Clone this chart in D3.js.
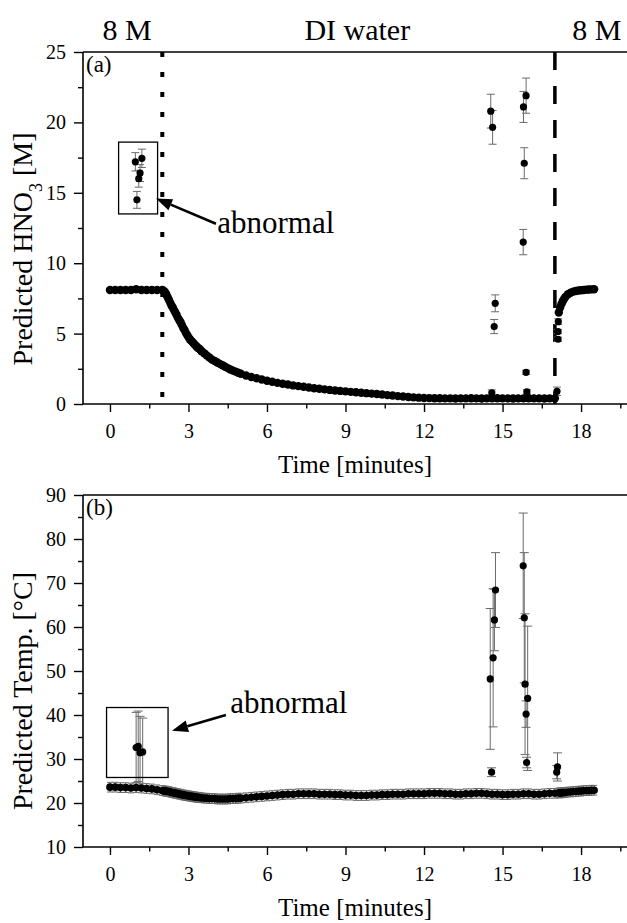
<!DOCTYPE html>
<html><head><meta charset="utf-8">
<script src="https://cdn.jsdelivr.net/npm/d3@7"></script>
<style>
body{margin:0;background:#fff}
svg{display:block}
</style>
</head><body>
<svg id="c" width="627" height="923" font-family="'Liberation Serif','DejaVu Serif',serif"></svg>
<script>
// ---------------- DATA ----------------
const times = [
  0,0.2,0.4,0.6,0.8,1,1.2,1.4,1.6,1.8,2,
  2.05,2.1,2.15,2.2,2.25,2.3,2.35,2.4,2.45,2.5,2.55,2.6,2.65,2.7,2.75,2.8,2.85,2.9,2.95,3,
  3.05,3.1,3.15,3.2,3.25,3.3,3.35,3.4,3.45,3.5,
  3.6,3.7,3.8,3.9,4,4.1,4.2,4.3,4.4,4.5,4.6,4.7,4.8,4.9,5,
  5.2,5.4,5.6,5.8,6,6.2,6.4,6.6,6.8,7,7.2,7.4,7.6,7.8,8,8.2,8.4,8.6,8.8,9,
  9.2,9.4,9.6,9.8,10,10.2,10.4,10.6,10.8,11,11.2,11.4,11.6,11.8,12,12.2,12.4,12.6,12.8,13,
  13.2,13.4,13.6,13.8,14,14.2,14.4,14.6,14.8,15,15.2,15.4,15.6,15.8,16,16.2,16.4,16.6,16.8,17,
  17.15,17.2,17.25,17.3,17.35,17.4,17.5,17.6,17.7,17.8,17.9,18,18.1,18.2,18.3,18.4,18.5
];
const hno3 = [
  8.1,8.1,8.1,8.1,8.1,8.15,8.1,8.1,8.1,8.1,8.1,
  8.05,7.95,7.8,7.6,7.4,7.2,7.0,6.85,6.65,6.5,6.3,6.1,5.95,5.8,5.6,5.4,5.25,5.05,4.9,4.75,
  4.6,4.5,4.4,4.3,4.2,4.1,4.0,3.95,3.85,3.75,
  3.6,3.45,3.3,3.15,3.05,2.95,2.85,2.75,2.65,2.55,2.45,2.37,2.3,2.22,2.15,
  2.02,1.92,1.83,1.74,1.65,1.58,1.5,1.44,1.38,1.32,1.27,1.22,1.17,1.12,1.08,1.04,1.0,0.96,0.93,0.9,
  0.86,0.83,0.8,0.77,0.74,0.71,0.67,0.63,0.6,0.56,0.53,0.5,0.47,0.45,0.43,0.42,0.41,0.41,0.4,0.4,
  0.39,0.4,0.4,0.41,0.4,0.39,0.4,0.4,0.41,0.4,0.4,0.39,0.4,0.4,0.41,0.4,0.4,0.39,0.4,0.4,
  6.5,6.85,7.1,7.3,7.45,7.6,7.8,7.9,7.98,8.03,8.06,8.08,8.1,8.12,8.13,8.14,8.15
];
const temp = [
  23.6,23.6,23.5,23.5,23.4,23.5,23.4,23.3,23.2,23.0,22.8,
  22.8,22.7,22.7,22.6,22.6,22.5,22.4,22.4,22.3,22.2,22.2,22.1,22.0,22.0,21.9,21.8,21.8,21.7,21.7,21.6,
  21.6,21.5,21.5,21.4,21.4,21.3,21.3,21.3,21.2,21.2,
  21.1,21.1,21.0,21.0,21.0,20.9,20.9,20.9,20.9,20.9,21.0,21.0,21.0,21.1,21.1,
  21.2,21.3,21.4,21.5,21.6,21.7,21.8,21.9,22.0,22.0,22.1,22.1,22.1,22.1,22.0,22.0,22.0,21.9,21.9,21.8,
  21.8,21.7,21.7,21.7,21.8,21.8,21.9,21.9,22.0,22.0,22.0,22.1,22.1,22.1,22.1,22.2,22.2,22.2,22.1,22.1,
  22.0,22.0,22.1,22.1,22.2,22.2,22.1,22.0,22.0,21.9,21.9,22.0,22.0,22.1,22.1,22.0,22.0,22.1,22.2,22.2,
  22.3,22.3,22.3,22.4,22.4,22.4,22.5,22.5,22.6,22.6,22.7,22.7,22.8,22.8,22.8,22.9,22.9
];
const hno3BaseErr = 0.12;
const tempBaseErr = 1.1;

// outliers (with error bars)
const hno3OutTime = [0.97,1.22,1.15,1.1,1.03, 14.55,14.62,14.72,14.68,14.59, 15.9,15.8,15.83,15.79,15.9,15.93, 17.08,17.12,17.12,17.13];
const hno3OutVal  = [17.2,17.45,16.4,16.0,14.5, 20.8,19.65,7.15,5.5,0.8, 21.9,21.1,17.1,11.5,2.25,0.87, 0.9,4.6,5.15,5.85];
const hno3OutErr  = [0.65,0.65,0.6,0.6,0.6, 1.2,1.2,0.6,0.5,0.2, 1.25,1.1,1.1,0.9,0.15,0.15, 0.3,0.15,0.15,0.2];

const tempOutTime = [1.0,1.08,1.15,1.25, 14.53,14.64,14.69,14.73,14.58, 15.79,15.83,15.86,15.96,15.9,15.92, 17.1,17.07];
const tempOutVal  = [32.6,32.9,31.4,31.6, 48.2,53.0,61.6,68.4,27.0, 73.9,62.1,47.0,43.8,40.2,29.2, 28.2,27.0];
const tempOutErr  = [8,8,8.3,7.7, 16,15.7,7,8.5,1.0, 12,14.8,16,16.4,3,1.2, 3.2,1.5];

const xMajorTicks = [0,3,6,9,12,15,18];
const xMinorTicks = [1.5,4.5,7.5,10.5,13.5,16.5,19.5];
const hno3MajorTicks = [0,5,10,15,20,25];
const hno3MinorTicks = [2.5,7.5,12.5,17.5,22.5];
const tempMajorTicks = [10,20,30,40,50,60,70,80,90];
const tempMinorTicks = [15,25,35,45,55,65,75,85];

const regionLabels = ["8 M","DI water","8 M"];
const regionLabelTimes = [0.65, 9.45, 18.6];
const switchTimes = [2, 17];   // dotted, dashed

// ---------------- LAYOUT ----------------
const FONT = "'Liberation Serif','DejaVu Serif',serif";
const svg = d3.select("#c");
const X0 = 83, X1 = 633.4;
const x = d3.scaleLinear().domain([-1.03, 20]).range([X0, X1]);
const yA = d3.scaleLinear().domain([0,25]).range([404,52]);
const yB = d3.scaleLinear().domain([10,90]).range([847,495]);

svg.append("defs").append("clipPath").attr("id","clip")
  .append("rect").attr("x",0).attr("y",0).attr("width",627).attr("height",923);

function txt(g) { return g.append("text").attr("font-family",FONT).attr("fill","#000"); }

function axes(y, major, minor, yTitleParts, yTitleY, panelLabel) {
  const [top, bottom] = [y.range()[1], y.range()[0]];
  const g = svg.append("g");
  const gx = g.append("g").attr("transform",`translate(0,${bottom})`)
    .call(d3.axisBottom(x).tickValues(xMajorTicks).tickSize(8).tickPadding(12).tickFormat(d3.format("d")));
  gx.append("g").call(d3.axisBottom(x).tickValues(xMinorTicks).tickSize(4.5).tickFormat(""));
  gx.selectAll(".domain").remove();
  g.append("line").attr("x1",X0).attr("x2",627).attr("y1",bottom).attr("y2",bottom)
    .attr("stroke","#000").attr("stroke-width",1.6);
  g.append("line").attr("x1",X0).attr("x2",627).attr("y1",top).attr("y2",top)
    .attr("stroke","#000").attr("stroke-width",1.6);
  const gy = g.append("g").attr("transform",`translate(${X0},0)`)
    .call(d3.axisLeft(y).tickValues(major).tickSize(9).tickPadding(8).tickFormat(d3.format("d")));
  gy.append("g").call(d3.axisLeft(y).tickValues(minor).tickSize(5).tickFormat(""));
  gy.selectAll(".domain").remove();
  g.append("line").attr("x1",X0).attr("x2",X0).attr("y1",top).attr("y2",bottom)
    .attr("stroke","#000").attr("stroke-width",1.6);
  g.selectAll("g").attr("font-family",FONT).attr("font-size",20);
  g.selectAll(".tick line").attr("stroke","#000").attr("stroke-width",1.4);
  g.selectAll(".tick text").attr("font-family",FONT).attr("font-size",20).attr("fill","#000");
  txt(g).attr("x", (X0 + 627) / 2).attr("y", bottom + 69).attr("text-anchor","middle")
    .attr("font-size",25).text("Time [minutes]");
  const t = txt(g).attr("transform",`translate(32,${yTitleY}) rotate(-90)`)
    .attr("text-anchor","middle").attr("font-size",28);
  yTitleParts.forEach(p => {
    const s = t.append("tspan").text(p.t);
    if (p.sub) s.attr("baseline-shift","sub").attr("font-size",18);
  });
  txt(g).attr("x",86).attr("y",top+20).attr("font-size",23).text(panelLabel);
}

function series(y, tArr, vArr, baseErr, oT, oV, oE, cap, baseCap, rMain) {
  const g = svg.append("g").attr("clip-path","url(#clip)");
  const main = tArr.map((t,i)=>({t, v:vArr[i], e:baseErr, c:baseCap, r:rMain}));
  const out = oT.map((t,i)=>({t, v:oV[i], e:oE[i], c:cap, r:3.6}));
  const all = main.concat(out);
  const eb = g.append("g").attr("stroke","#6a6a6a").attr("stroke-width",1);
  eb.selectAll("line.v").data(all).join("line").attr("class","v")
    .attr("x1",d=>x(d.t)).attr("x2",d=>x(d.t)).attr("y1",d=>y(d.v-d.e)).attr("y2",d=>y(d.v+d.e));
  eb.selectAll("line.c1").data(all.filter(d=>d.c>0)).join("line").attr("class","c1")
    .attr("x1",d=>x(d.t)-d.c).attr("x2",d=>x(d.t)+d.c).attr("y1",d=>y(d.v+d.e)).attr("y2",d=>y(d.v+d.e));
  eb.selectAll("line.c2").data(all.filter(d=>d.c>0)).join("line").attr("class","c2")
    .attr("x1",d=>x(d.t)-d.c).attr("x2",d=>x(d.t)+d.c).attr("y1",d=>y(d.v-d.e)).attr("y2",d=>y(d.v-d.e));
  g.selectAll("circle").data(all).join("circle")
    .attr("cx",d=>x(d.t)).attr("cy",d=>y(d.v)).attr("r",d=>d.r).attr("fill","#000");
}

function annotate(y, box, arrow, label) {
  const g = svg.append("g");
  g.append("rect").attr("x",x(box.t0)).attr("y",y(box.v1))
    .attr("width",x(box.t1)-x(box.t0)).attr("height",y(box.v0)-y(box.v1))
    .attr("fill","none").attr("stroke","#000").attr("stroke-width",1.3);
  const x1=x(arrow.fromT), y1=y(arrow.fromV), x2=x(arrow.toT), y2=y(arrow.toV);
  const ang = Math.atan2(y2-y1, x2-x1), L=16, W=6;
  const bx = x2 - L*Math.cos(ang), by = y2 - L*Math.sin(ang);
  g.append("line").attr("x1",x1).attr("y1",y1).attr("x2",bx).attr("y2",by)
    .attr("stroke","#000").attr("stroke-width",2.6);
  g.append("path").attr("fill","#000").attr("d",
    `M${x2},${y2}L${bx - W*Math.sin(ang)},${by + W*Math.cos(ang)}L${bx + W*Math.sin(ang)},${by - W*Math.cos(ang)}Z`);
  txt(g).attr("x",x(label.t)).attr("y",y(label.v)).attr("font-size",31).text("abnormal");
}

// ---------- panel (a) ----------
axes(yA, hno3MajorTicks, hno3MinorTicks,
  [{t:"Predicted HNO"},{t:"3",sub:true},{t:" [M]"}], 249, "(a)");
svg.append("line").attr("x1",x(switchTimes[0])).attr("x2",x(switchTimes[0]))
  .attr("y1",yA(25)).attr("y2",yA(0)).attr("stroke","#000").attr("stroke-width",4)
  .attr("stroke-dasharray","5,15");
svg.append("line").attr("x1",x(switchTimes[1])).attr("x2",x(switchTimes[1]))
  .attr("y1",yA(25)).attr("y2",yA(0)).attr("stroke","#000").attr("stroke-width",3.5)
  .attr("stroke-dasharray","18,16");
series(yA, times, hno3, hno3BaseErr, hno3OutTime, hno3OutVal, hno3OutErr, 4, 0, 4.2);
annotate(yA, {t0:0.33,t1:1.82,v0:13.5,v1:18.6}, {fromT:4.05,fromV:12.8,toT:1.76,toV:14.6}, {t:4.1,v:12.15});
regionLabels.forEach((s,i)=>{
  txt(svg).attr("x",x(regionLabelTimes[i])).attr("y",40).attr("text-anchor","middle")
    .attr("font-size",30).text(s);
});

// ---------- panel (b) ----------
axes(yB, tempMajorTicks, tempMinorTicks,
  [{t:"Predicted Temp. [°C]"}], 691, "(b)");
series(yB, times, temp, tempBaseErr, tempOutTime, tempOutVal, tempOutErr, 4.5, 3, 3.8);
annotate(yB, {t0:-0.13,t1:2.22,v0:25.8,v1:41.7}, {fromT:4.43,fromV:40,toT:2.37,toV:36.4}, {t:4.6,v:40.5});
</script>
</body></html>
